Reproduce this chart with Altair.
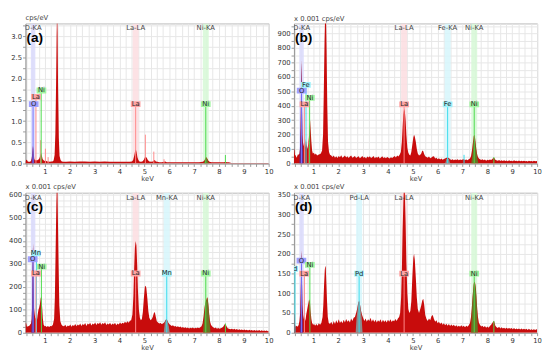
import altair as alt
import pandas as pd

# ---------------- data ----------------
XDOM = [0.22, 10.0]
X_MAJOR = [1, 2, 3, 4, 5, 6, 7, 8, 9, 10]

# Panel (a)  cps/eV
A_SPEC = [(0.22,0.05),(0.25,0.09),(0.28,0.08),(0.31,0.05),(0.35,0.04),(0.40,0.04),(0.44,0.06),(0.47,0.12),
          (0.50,0.30),(0.52,0.42),(0.54,0.33),(0.57,0.12),(0.60,0.07),(0.64,0.08),(0.68,0.07),(0.72,0.09),
          (0.76,0.10),(0.79,0.14),(0.82,0.20),(0.85,0.25),(0.88,0.18),(0.91,0.10),(0.94,0.08),(0.98,0.06),
          (1.02,0.07),(1.06,0.06),(1.10,0.05),(1.15,0.05),(1.20,0.04),(1.25,0.05),(1.30,0.05),(1.35,0.07),
          (1.39,0.20),(1.42,0.70),(1.45,1.90),(1.47,3.00),(1.49,3.60),(1.51,3.10),(1.53,1.80),(1.56,0.60),
          (1.59,0.18),(1.63,0.08),(1.68,0.05),(1.75,0.04),(1.85,0.04),(2.0,0.05),(2.2,0.04),(2.4,0.05),
          (2.6,0.05),(2.8,0.04),(3.0,0.05),(3.2,0.04),(3.4,0.05),(3.6,0.04),(3.8,0.04),(4.0,0.04),(4.2,0.04),
          (4.4,0.04),(4.5,0.05),(4.55,0.08),(4.6,0.20),(4.63,0.30),(4.66,0.33),(4.69,0.26),(4.72,0.15),
          (4.76,0.08),(4.8,0.05),(4.86,0.04),(4.92,0.05),(4.98,0.09),(5.02,0.14),(5.06,0.16),(5.1,0.13),
          (5.14,0.08),(5.2,0.05),(5.28,0.04),(5.34,0.05),(5.38,0.07),(5.42,0.08),(5.46,0.05),(5.52,0.04),
          (5.6,0.03),(5.7,0.03),(5.8,0.04),(5.84,0.05),(5.9,0.03),(6.0,0.03),(6.2,0.03),(6.4,0.03),(6.6,0.03),
          (6.8,0.03),(7.0,0.03),(7.2,0.03),(7.35,0.04),(7.4,0.06),(7.44,0.10),(7.47,0.14),(7.5,0.15),
          (7.53,0.12),(7.57,0.07),(7.62,0.04),(7.7,0.03),(7.8,0.03),(8.0,0.03),(8.2,0.03),(8.26,0.04),
          (8.32,0.03),(8.4,0.03),(8.5,0.01),(8.6,0.01),(9.0,0.01),(9.5,0.01),(10.0,0.01)]
A_O_PEAK = [(0.46,0.0),(0.47,0.10),(0.50,0.28),(0.52,0.40),(0.54,0.30),(0.56,0.12),(0.58,0.0)]
A_NI_PEAK = [(7.38,0.0),(7.42,0.05),(7.47,0.12),(7.50,0.13),(7.53,0.10),(7.57,0.05),(7.60,0.0)]
A_X_PEAK = []
A_BANDS = [("O",0.525,"O-KA"),("La",4.65,"La-LA"),("Ni",7.47,"Ni-KA")]
A_LINES = [("O",0.525,1.40),("La",0.64,1.57),("La",0.83,0.55),("La",1.02,0.35),("La",1.13,0.15),
           ("La",4.65,1.40),("La",5.04,0.68),("La",5.38,0.28),("La",5.79,0.10),("Ni",0.85,1.72),
           ("Ni",7.47,1.40),("Ni",8.26,0.20)]
A_BOXES = [("O",0.55,1.40,"O"),("La",0.64,1.57,"La"),("Ni",0.86,1.72,"Ni"),("La",4.65,1.40,"La"),("Ni",7.47,1.40,"Ni")]
A_YDOM = [0, 3.3]
A_YMAJOR = [0.0, 0.5, 1.0, 1.5, 2.0, 2.5, 3.0]

# Panel (b)  x 0.001 cps/eV
B_SPEC = [(0.22,100),(0.24,95),(0.26,60),(0.29,55),(0.32,40),(0.35,50),(0.38,65),(0.41,60),(0.44,70),(0.47,110),
          (0.49,300),(0.51,600),(0.525,720),(0.54,450),(0.56,200),(0.58,150),(0.61,120),(0.64,150),(0.67,110),
          (0.70,170),(0.73,130),(0.76,100),(0.79,130),(0.82,180),(0.85,260),(0.87,300),(0.89,240),(0.92,150),
          (0.95,90),(0.98,70),(1.02,75),(1.06,60),(1.10,70),(1.15,55),(1.20,60),(1.25,65),(1.30,70),(1.35,90),
          (1.39,200),(1.42,500),(1.45,850),(1.47,1000),(1.49,1100),(1.51,1000),(1.53,800),(1.56,400),(1.59,150),
          (1.63,80),(1.67,60),(1.72,55),(1.77,45),(1.82,55),(1.87,40),(1.92,50),(1.97,38),(2.02,52),(2.07,44),
          (2.12,58),(2.17,40),(2.22,47),(2.27,55),(2.32,42),(2.37,50),(2.42,38),(2.47,48),(2.52,55),(2.57,40),
          (2.62,46),(2.67,52),(2.72,38),(2.77,45),(2.82,50),(2.87,36),(2.92,44),(2.97,52),(3.02,40),(3.07,46),
          (3.12,35),(3.17,48),(3.22,42),(3.27,50),(3.32,38),(3.37,44),(3.42,52),(3.47,36),(3.52,45),(3.57,40),
          (3.62,48),(3.67,35),(3.72,42),(3.77,50),(3.82,38),(3.87,44),(3.92,36),(3.97,46),(4.02,40),(4.07,34),
          (4.12,44),(4.17,38),(4.22,46),(4.27,52),(4.32,42),(4.37,55),(4.42,48),(4.47,60),(4.52,80),(4.56,150),
          (4.59,250),(4.62,340),(4.65,380),(4.68,360),(4.71,300),(4.74,200),(4.78,110),(4.82,75),(4.86,60),
          (4.90,55),(4.94,80),(4.98,130),(5.02,180),(5.05,200),(5.08,185),(5.12,150),(5.16,100),(5.20,70),
          (5.25,55),(5.30,60),(5.34,70),(5.38,90),(5.42,85),(5.46,65),(5.50,50),(5.55,45),(5.60,40),(5.65,48),
          (5.70,36),(5.75,42),(5.80,48),(5.85,50),(5.90,35),(5.95,40),(6.00,30),(6.05,36),(6.10,28),(6.15,34),
          (6.20,26),(6.25,32),(6.30,35),(6.35,40),(6.40,42),(6.45,38),(6.50,30),(6.55,24),(6.60,30),(6.65,22),
          (6.70,28),(6.75,24),(6.80,30),(6.85,22),(6.90,27),(6.95,24),(7.00,28),(7.05,30),(7.10,24),(7.15,28),
          (7.20,22),(7.25,30),(7.30,35),(7.34,50),(7.38,90),(7.42,150),(7.45,190),(7.48,200),(7.51,170),
          (7.54,120),(7.58,70),(7.62,45),(7.66,35),(7.70,30),(7.75,25),(7.80,30),(7.85,22),(7.90,27),(7.95,20),
          (8.00,26),(8.05,22),(8.10,28),(8.15,24),(8.20,32),(8.24,40),(8.28,38),(8.32,26),(8.36,22),(8.42,20),
          (8.47,25),(8.52,18),(8.57,22),(8.62,17),(8.67,23),(8.72,18),(8.77,21),(8.82,16),(8.87,22),(8.92,17),
          (8.97,20),(9.02,16),(9.07,22),(9.12,17),(9.17,20),(9.22,15),(9.27,21),(9.32,16),(9.37,19),(9.42,15),
          (9.47,20),(9.52,16),(9.57,18),(9.62,14),(9.67,19),(9.72,15),(9.77,18),(9.82,14),(9.87,20),(9.92,15),
          (9.97,18),(10.0,16)]
B_O_PEAK = [(0.44,0),(0.45,60),(0.49,250),(0.51,560),(0.525,700),(0.54,420),(0.56,150),(0.58,100),(0.60,0)]
B_NI_PEAK = [(7.35,0),(7.40,60),(7.45,150),(7.48,180),(7.51,150),(7.55,90),(7.60,30),(7.64,0)]
B_X_PEAK = [(6.30,0),(6.35,30),(6.40,38),(6.45,30),(6.50,0)]
B_BANDS = [("O",0.525,"O-KA"),("La",4.65,"La-LA"),("Fe",6.40,"Fe-KA"),("Ni",7.47,"Ni-KA")]
B_LINES = [("O",0.525,505),("La",0.64,410),("La",0.83,150),("Fe",0.705,545),("Ni",0.85,455),("La",4.65,410),
           ("Fe",6.40,410),("Fe",7.06,60),("Ni",7.47,410),("Ni",8.26,45)]
B_BOXES = [("O",0.53,505,"O"),("Fe",0.70,545,"Fe"),("Ni",0.86,455,"Ni"),("La",0.64,410,"La"),
           ("La",4.65,410,"La"),("Fe",6.40,410,"Fe"),("Ni",7.47,410,"Ni")]
B_YDOM = [0, 970]
B_YMAJOR = [0, 100, 200, 300, 400, 500, 600, 700, 800, 900]

# Panel (c)  x 0.001 cps/eV
C_SPEC = [(0.22,45),(0.25,40),(0.28,25),(0.32,30),(0.36,28),(0.40,35),(0.44,40),(0.47,60),(0.49,150),(0.51,330),
          (0.525,390),(0.54,250),(0.56,110),(0.59,80),(0.62,60),(0.65,70),(0.68,55),(0.71,80),(0.74,100),
          (0.77,110),(0.80,125),(0.83,150),(0.86,160),(0.89,110),(0.92,60),(0.95,35),(0.99,28),(1.03,30),
          (1.07,25),(1.12,30),(1.17,25),(1.22,30),(1.27,28),(1.32,35),(1.37,60),(1.40,150),(1.43,350),
          (1.46,560),(1.48,640),(1.50,660),(1.52,520),(1.55,300),(1.58,120),(1.62,50),(1.67,35),(1.72,30),
          (1.77,28),(1.82,35),(1.87,25),(1.92,32),(1.97,28),(2.02,36),(2.07,26),(2.12,34),(2.17,30),(2.22,38),
          (2.27,28),(2.32,36),(2.37,32),(2.42,40),(2.47,30),(2.52,38),(2.57,34),(2.62,42),(2.67,30),(2.72,40),
          (2.77,36),(2.82,44),(2.87,32),(2.92,40),(2.97,36),(3.02,45),(3.07,34),(3.12,42),(3.17,38),(3.22,46),
          (3.27,35),(3.32,42),(3.37,38),(3.42,46),(3.47,34),(3.52,40),(3.57,36),(3.62,44),(3.67,34),(3.72,40),
          (3.77,36),(3.82,44),(3.87,33),(3.92,40),(3.97,36),(4.02,45),(4.07,38),(4.12,44),(4.17,40),(4.22,48),
          (4.27,42),(4.32,50),(4.37,44),(4.42,52),(4.47,55),(4.52,80),(4.56,160),(4.59,280),(4.62,370),
          (4.65,400),(4.68,380),(4.71,300),(4.74,190),(4.78,100),(4.82,65),(4.86,55),(4.90,60),(4.94,90),
          (4.98,150),(5.02,200),(5.05,205),(5.08,195),(5.12,150),(5.16,95),(5.20,65),(5.25,55),(5.30,60),
          (5.34,70),(5.38,85),(5.42,90),(5.46,70),(5.50,50),(5.55,45),(5.60,40),(5.65,42),(5.70,38),(5.75,40),
          (5.80,45),(5.85,55),(5.88,60),(5.92,55),(5.96,45),(6.00,38),(6.05,34),(6.10,30),(6.15,33),(6.20,27),
          (6.25,30),(6.30,25),(6.35,28),(6.40,24),(6.45,27),(6.50,22),(6.55,25),(6.60,21),(6.65,24),(6.70,20),
          (6.75,23),(6.80,19),(6.85,22),(6.90,20),(6.95,23),(7.00,19),(7.05,22),(7.10,20),(7.15,23),(7.20,20),
          (7.25,24),(7.30,28),(7.34,40),(7.38,70),(7.42,110),(7.45,130),(7.48,140),(7.51,150),(7.54,155),
          (7.57,130),(7.60,90),(7.64,50),(7.68,35),(7.72,28),(7.77,24),(7.82,20),(7.87,23),(7.92,18),(7.97,21),
          (8.02,17),(8.07,20),(8.12,22),(8.17,26),(8.22,35),(8.26,40),(8.30,30),(8.35,20),(8.40,17),(8.47,15),
          (8.52,18),(8.57,14),(8.62,17),(8.67,13),(8.72,16),(8.77,12),(8.82,15),(8.87,12),(8.92,14),(8.97,11),
          (9.02,14),(9.07,11),(9.12,13),(9.17,10),(9.22,13),(9.27,10),(9.32,12),(9.37,9),(9.42,12),(9.47,9),
          (9.52,11),(9.57,9),(9.62,12),(9.67,8),(9.72,11),(9.77,8),(9.82,10),(9.87,8),(9.92,10),(9.97,7),(10.0,9)]
C_O_PEAK = [(0.45,0),(0.47,50),(0.49,140),(0.51,320),(0.525,380),(0.54,240),(0.56,100),(0.58,0)]
C_NI_PEAK = [(7.36,0),(7.40,60),(7.45,120),(7.50,140),(7.54,150),(7.58,110),(7.62,50),(7.66,0)]
C_X_PEAK = [(5.78,0),(5.82,40),(5.86,55),(5.90,55),(5.94,45),(5.98,30),(6.02,0)]
C_BANDS = [("O",0.525,"O-KA"),("La",4.65,"La-LA"),("Mn",5.90,"Mn-KA"),("Ni",7.47,"Ni-KA")]
C_LINES = [("O",0.525,320),("Mn",0.66,346),("La",0.64,258),("Ni",0.86,288),("La",4.65,258),
           ("Mn",5.90,258),("Ni",7.47,258),("Ni",8.26,40)]
C_BOXES = [("Mn",0.64,346,"Mn"),("O",0.51,320,"O"),("Ni",0.87,288,"Ni"),("La",0.64,258,"La"),
           ("La",4.65,258,"La"),("Mn",5.90,258,"Mn"),("Ni",7.47,258,"Ni")]
C_YDOM = [0, 610]
C_YMAJOR = [0, 100, 200, 300, 400, 500, 600]

# Panel (d)  x 0.001 cps/eV
D_SPEC = [(0.22,45),(0.24,50),(0.26,20),(0.29,15),(0.33,18),(0.37,15),(0.41,20),(0.44,30),(0.47,50),(0.49,100),
          (0.51,180),(0.525,210),(0.54,150),(0.56,70),(0.59,45),(0.62,35),(0.65,40),(0.68,30),(0.71,45),
          (0.74,55),(0.77,65),(0.80,75),(0.83,85),(0.86,80),(0.89,55),(0.92,35),(0.95,25),(0.99,20),(1.03,22),
          (1.07,18),(1.12,22),(1.17,18),(1.22,24),(1.27,20),(1.32,25),(1.37,40),(1.40,70),(1.43,120),
          (1.46,160),(1.48,170),(1.50,165),(1.52,130),(1.55,80),(1.58,40),(1.62,25),(1.67,22),(1.72,28),
          (1.77,20),(1.82,30),(1.87,22),(1.92,32),(1.97,24),(2.02,34),(2.07,25),(2.12,30),(2.17,24),(2.22,33),
          (2.27,26),(2.32,35),(2.37,28),(2.42,32),(2.47,26),(2.52,36),(2.57,30),(2.62,38),(2.67,40),(2.72,50),
          (2.76,60),(2.80,75),(2.84,82),(2.88,70),(2.92,55),(2.96,45),(3.00,38),(3.05,30),(3.10,36),(3.15,28),
          (3.20,34),(3.25,30),(3.30,38),(3.35,28),(3.40,34),(3.45,27),(3.50,33),(3.55,26),(3.60,32),(3.65,28),
          (3.70,34),(3.75,26),(3.80,33),(3.85,27),(3.90,32),(3.95,26),(4.00,33),(4.05,28),(4.10,34),(4.15,27),
          (4.20,32),(4.25,29),(4.30,35),(4.35,30),(4.40,36),(4.45,40),(4.49,50),(4.53,90),(4.56,160),(4.59,260),
          (4.62,330),(4.65,380),(4.68,350),(4.71,280),(4.74,180),(4.78,100),(4.82,60),(4.86,50),(4.90,55),
          (4.94,80),(4.98,140),(5.02,190),(5.05,200),(5.08,185),(5.12,140),(5.16,90),(5.20,60),(5.25,50),
          (5.30,60),(5.34,70),(5.38,82),(5.42,86),(5.46,70),(5.50,45),(5.55,35),(5.60,30),(5.65,36),(5.70,32),
          (5.75,42),(5.80,45),(5.85,35),(5.90,28),(5.95,32),(6.00,24),(6.05,28),(6.10,22),(6.15,26),(6.20,20),
          (6.25,24),(6.30,19),(6.35,23),(6.40,18),(6.45,22),(6.50,17),(6.55,21),(6.60,17),(6.65,20),(6.70,16),
          (6.75,19),(6.80,15),(6.85,18),(6.90,15),(6.95,19),(7.00,15),(7.05,18),(7.10,14),(7.15,18),(7.20,15),
          (7.25,19),(7.30,25),(7.34,40),(7.38,70),(7.42,105),(7.45,125),(7.48,130),(7.51,125),(7.54,110),
          (7.58,70),(7.62,40),(7.66,25),(7.70,20),(7.75,16),(7.80,18),(7.85,14),(7.90,17),(7.95,13),(8.00,16),
          (8.05,13),(8.10,17),(8.15,20),(8.20,25),(8.24,30),(8.28,28),(8.32,18),(8.37,14),(8.42,12),(8.47,15),
          (8.52,11),(8.57,14),(8.62,11),(8.67,13),(8.72,10),(8.77,13),(8.82,10),(8.87,12),(8.92,10),(8.97,12),
          (9.02,9),(9.07,12),(9.12,9),(9.17,11),(9.22,9),(9.27,11),(9.32,8),(9.37,11),(9.42,8),(9.47,10),
          (9.52,8),(9.57,10),(9.62,7),(9.67,10),(9.72,7),(9.77,9),(9.82,7),(9.87,9),(9.92,7),(9.97,9),(10.0,8)]
D_O_PEAK = [(0.46,0),(0.48,40),(0.50,120),(0.515,190),(0.525,205),(0.54,140),(0.56,60),(0.58,0)]
D_NI_PEAK = [(7.34,0),(7.38,60),(7.42,100),(7.46,125),(7.50,125),(7.54,105),(7.58,60),(7.62,0)]
D_X_PEAK = [(2.70,0),(2.74,40),(2.78,60),(2.82,75),(2.86,78),(2.90,60),(2.94,40),(2.98,0)]
D_BANDS = [("O",0.525,"O-KA"),("Pd",2.84,"Pd-LA"),("La",4.65,"La-LA"),("Ni",7.47,"Ni-KA")]
D_LINES = [("Pd",0.26,162),("O",0.525,183),("Ni",0.86,172),("La",0.64,150),("Pd",2.84,150),
           ("La",4.65,150),("Ni",7.47,150),("Ni",8.26,30)]
D_BOXES = [("Pd",0.19,162,"Pd"),("O",0.52,183,"O"),("Ni",0.86,172,"Ni"),("La",0.63,150,"La"),
           ("Pd",2.84,150,"Pd"),("La",4.65,150,"La"),("Ni",7.47,150,"Ni")]
D_YDOM = [0, 355]
D_YMAJOR = [0, 50, 100, 150, 200, 250, 300, 350]

# ---------------- styling ----------------
W, H = 250, 144
ELS = ["O", "La", "Ni", "Fe", "Mn", "Pd"]
LINE_COL = ["#7474ff", "#ff8a8a", "#4cdc4c", "#38dcec", "#38dcec", "#38dcec"]
BOX_COL = ["#a0a0ff", "#ffa3a3", "#a0f5a0", "#a0f2fa", "#a0f2fa", "#a0f2fa"]
BAND_COL = ["#d9d9fb", "#fcdde0", "#d6f8d6", "#d6f6fb", "#d6f6fb", "#d6f6fb"]
OV_KEYS = ["O", "Ni", "X"]
OV_COL = ["#5a2a9c", "#5f7f26", "#869a9a"]
SPEC_COL = "#c80c0c"
FONT = "DejaVu Sans"


def panel(letter, unit, spec, o_pk, ni_pk, x_pk, bands, lines, boxes, ydom, ymajor, ystep, yfmt, yext):
    xs = alt.Scale(domain=XDOM, nice=False, zero=False)
    ys = alt.Scale(domain=ydom, nice=False, zero=False)
    xvals = [0.25 * i for i in range(1, 41)]
    nmin = int(round(ydom[1] / ystep))
    yvals = [round(i * ystep, 6) for i in range(nmin + 1) if i * ystep <= ydom[1] + 1e-9]
    major = ymajor[1] - ymajor[0]
    xaxis = alt.Axis(values=xvals, title="keV", labelOverlap=False, labelFlush=False,
                     labelExpr="abs(datum.value - round(datum.value)) < 0.001 ? format(datum.value, 'd') : ''")
    yaxis = alt.Axis(values=yvals, title=None, minExtent=yext, maxExtent=yext, labelOverlap=False,
                     labelFlush=False,
                     labelExpr=f"abs(datum.value/{major} - round(datum.value/{major})) < 0.001 ? format(datum.value, '{yfmt}') : ''")

    def X(f):
        return alt.X(f, type="quantitative", scale=xs, axis=xaxis)

    def Y(f):
        return alt.Y(f, type="quantitative", scale=ys, axis=yaxis, stack=None)

    sdf = pd.DataFrame(spec, columns=["kev", "v"])
    ov = []
    for key, pts in zip(OV_KEYS, [o_pk, ni_pk, x_pk]):
        for k, v in pts:
            ov.append((key, k, v))
    odf = pd.DataFrame(ov, columns=["el", "kev", "v"])
    bdf = pd.DataFrame(bands, columns=["el", "c", "label"])
    bdf["x0"] = [c - (0.09 if e == "O" else 0.12) for e, c in zip(bdf["el"], bdf["c"])]
    bdf["x1"] = [c + (0.09 if e == "O" else 0.12) for e, c in zip(bdf["el"], bdf["c"])]
    ldf = pd.DataFrame(lines, columns=["el", "kev", "top"])
    ldf["y0"] = 0.0
    xdf = pd.DataFrame(boxes, columns=["el", "kev", "y", "label"])
    tdf = pd.DataFrame({"t": [letter]})

    band_layer = alt.Chart(bdf).mark_rect(opacity=0.85, clip=True).encode(
        x=X("x0"), x2="x1", y=alt.value(0), y2=alt.value(H),
        color=alt.Color("el:N", scale=alt.Scale(domain=ELS, range=BAND_COL), legend=None))
    spec_layer = alt.Chart(sdf).mark_area(color=SPEC_COL, clip=True, interpolate="linear").encode(
        x=X("kev"), y=Y("v"))
    ov_layer = alt.Chart(odf).mark_area(clip=True, opacity=0.9).encode(
        x=X("kev"), y=Y("v"),
        fill=alt.Fill("el:N", scale=alt.Scale(domain=OV_KEYS, range=OV_COL), legend=None))
    line_layer = alt.Chart(ldf).mark_rule(clip=True, strokeWidth=1).encode(
        x=X("kev"), y=Y("y0"), y2="top",
        stroke=alt.Stroke("el:N", scale=alt.Scale(domain=ELS, range=LINE_COL), legend=None))
    box_layer = alt.Chart(xdf).mark_point(
        shape="M-1,-0.6L1,-0.6L1,0.6L-1,0.6Z", size=100, filled=True, opacity=1, clip=True).encode(
        x=X("kev"), y=Y("y"),
        color=alt.Color("el:N", scale=alt.Scale(domain=ELS, range=BOX_COL), legend=None))
    boxtxt = alt.Chart(xdf).mark_text(fontSize=7, font=FONT, color="#2a2a2a", clip=True, baseline="middle").encode(
        x=X("kev"), y=Y("y"), text="label:N")
    bandtxt = alt.Chart(bdf).mark_text(fontSize=7, font=FONT, color="#444", baseline="top", clip=True).encode(
        x=X("c"), y=alt.value(1), text="label:N")
    lett = alt.Chart(tdf).mark_text(fontSize=14, fontWeight="bold", font="Liberation Sans", color="black",
                                    align="left", baseline="top").encode(
        x=alt.value(1), y=alt.value(8), text="t:N")

    return alt.layer(band_layer, spec_layer, ov_layer, line_layer, box_layer, boxtxt, bandtxt, lett).resolve_scale(
        color="independent", fill="independent", stroke="independent").properties(
        width=W, height=H,
        title=alt.TitleParams(text=unit, anchor="start", frame="group", fontSize=7, font=FONT,
                              fontWeight="normal", color="#444", offset=1))


pa = panel("(a)", "cps/eV", A_SPEC, A_O_PEAK, A_NI_PEAK, A_X_PEAK, A_BANDS, A_LINES, A_BOXES,
           A_YDOM, A_YMAJOR, 0.25, ".1f", 15)
pb = panel("(b)", "x 0.001 cps/eV", B_SPEC, B_O_PEAK, B_NI_PEAK, B_X_PEAK, B_BANDS, B_LINES, B_BOXES,
           B_YDOM, B_YMAJOR, 50, "d", 18)
pc = panel("(c)", "x 0.001 cps/eV", C_SPEC, C_O_PEAK, C_NI_PEAK, C_X_PEAK, C_BANDS, C_LINES, C_BOXES,
           C_YDOM, C_YMAJOR, 25, "d", 15)
pd_ = panel("(d)", "x 0.001 cps/eV", D_SPEC, D_O_PEAK, D_NI_PEAK, D_X_PEAK, D_BANDS, D_LINES, D_BOXES,
            D_YDOM, D_YMAJOR, 25, "d", 18)

chart = alt.vconcat(
    alt.hconcat(pa, pb, spacing=2),
    alt.hconcat(pc, pd_, spacing=2),
    spacing=0,
).properties(padding=0).configure_view(stroke="#b8b8b8").configure_axis(
    labelFontSize=7, labelFont=FONT, labelColor="#333", labelPadding=1, tickSize=3,
    tickColor="#999", domainColor="#999", gridColor="#e6e6e6", titleFontSize=7, titleFont=FONT,
    titleFontWeight="normal", titleColor="#444", titlePadding=0, labelOverlap=False,
)

chart.save("out.html", embed_options={"renderer": "svg", "actions": False})
